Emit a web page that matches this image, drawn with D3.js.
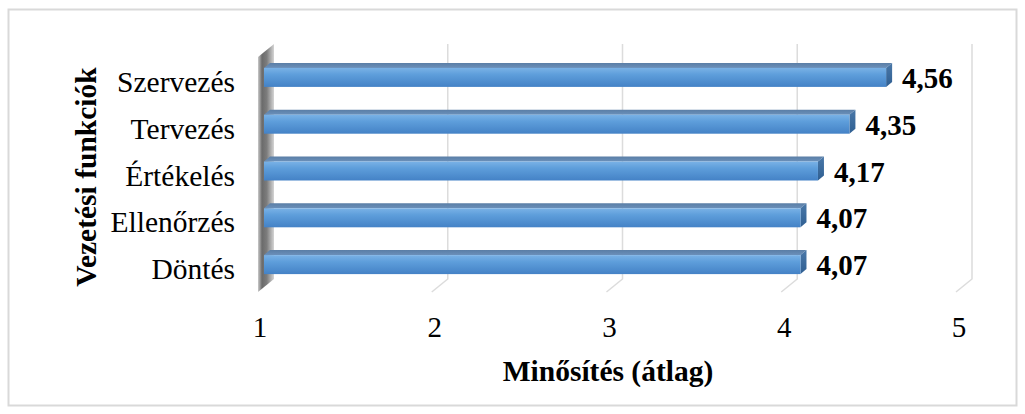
<!DOCTYPE html>
<html>
<head>
<meta charset="utf-8">
<script src="https://cdn.jsdelivr.net/npm/d3@7/dist/d3.min.js"></script>
<style>
  html, body { margin: 0; padding: 0; background: #fff; }
  svg { display: block; }
  text { font-family: "Liberation Serif", "Times New Roman", serif; fill: #000; }
</style>
</head>
<body>
<svg id="chart" width="1025" height="414"></svg>
<script>
// Vezetési funkciók – átlagos minősítés (1–5 skála)
const categories = ["Szervezés", "Tervezés", "Értékelés", "Ellenőrzés", "Döntés"];
const values = [4.56, 4.35, 4.17, 4.07, 4.07];
const valueLabels = ["4,56", "4,35", "4,17", "4,07", "4,07"];
const ticks = [1, 2, 3, 4, 5];
const xTitle = "Minősítés (átlag)";
const yTitle = "Vezetési funkciók";

const svg = d3.select("#chart");

// pseudo-3D geometry: back wall and depth offset
const backTop = 44, backBottom = 279;
const depthX = -16, depthY = 13;        // full depth of the floor
const barFrontX = -9;                    // bar front face relative to back wall
const barDepthX = 6, barDepthY = 5;      // thickness of the bar's top/side faces

const x = d3.scaleLinear().domain([1, 5]).range([273, 972]);
const y = d3.scaleBand().domain(categories).range([54, 288])
  .paddingInner(0.594).paddingOuter(0.297);

const defs = svg.append("defs");

const gFront = defs.append("linearGradient").attr("id", "barFront")
  .attr("x1", 0).attr("y1", 0).attr("x2", 0).attr("y2", 1);
gFront.append("stop").attr("offset", "0%").attr("stop-color", "#7ab2e6");
gFront.append("stop").attr("offset", "35%").attr("stop-color", "#5e9edb");
gFront.append("stop").attr("offset", "100%").attr("stop-color", "#4482c6");

const gTop = defs.append("linearGradient").attr("id", "barTop")
  .attr("x1", 0).attr("y1", 0).attr("x2", 0).attr("y2", 1);
gTop.append("stop").attr("offset", "0%").attr("stop-color", "#5a7ea6");
gTop.append("stop").attr("offset", "100%").attr("stop-color", "#6b90ba");

const gSide = defs.append("linearGradient").attr("id", "barSide")
  .attr("x1", 0).attr("y1", 0).attr("x2", 0).attr("y2", 1);
gSide.append("stop").attr("offset", "0%").attr("stop-color", "#4a78a8");
gSide.append("stop").attr("offset", "100%").attr("stop-color", "#2f5f92");

const gWall = defs.append("linearGradient").attr("id", "wall")
  .attr("x1", 0).attr("y1", 0).attr("x2", 1).attr("y2", 0);
gWall.append("stop").attr("offset", "0%").attr("stop-color", "#c4c4c4");
gWall.append("stop").attr("offset", "25%").attr("stop-color", "#5a5a5a");
gWall.append("stop").attr("offset", "55%").attr("stop-color", "#6e6e6e");
gWall.append("stop").attr("offset", "100%").attr("stop-color", "#d0d0d0");

// chart frame
svg.append("rect")
  .attr("x", 8.5).attr("y", 9.5).attr("width", 1008).attr("height", 396)
  .attr("fill", "#fff").attr("stroke", "#d9d9d9").attr("stroke-width", 2);

// gridlines on the back wall, bending onto the floor
svg.append("g").selectAll("path")
  .data(ticks.slice(1))
  .join("path")
  .attr("d", v => `M${x(v)},${backTop}V${backBottom}L${x(v) + depthX},${backBottom + depthY}`)
  .attr("fill", "none").attr("stroke", "#dcdcdc").attr("stroke-width", 1.5);

// side wall at the category axis
const x0 = x(1);
svg.append("path")
  .attr("d", `M${x0 + 1},${backTop}L${x0 + depthX + 1},${backTop + depthY}L${x0 + depthX + 1},${backBottom + depthY}L${x0 + 1},${backBottom}Z`)
  .attr("fill", "url(#wall)").attr("opacity", 0.9);

// bars: front face, top face and right side face
const bars = svg.append("g").selectAll("g")
  .data(categories.map((c, i) => ({ c, v: values[i], label: valueLabels[i] })))
  .join("g");

bars.append("path") // top
  .attr("d", d => {
    const l = x(1) + barFrontX, r = x(d.v) + barFrontX, t = y(d.c);
    return `M${l},${t}L${l + barDepthX},${t - barDepthY}L${r + barDepthX},${t - barDepthY}L${r},${t}Z`;
  })
  .attr("fill", "url(#barTop)");

bars.append("path") // right side
  .attr("d", d => {
    const r = x(d.v) + barFrontX, t = y(d.c), b = t + y.bandwidth();
    return `M${r},${t}L${r + barDepthX},${t - barDepthY}L${r + barDepthX},${b - barDepthY}L${r},${b}Z`;
  })
  .attr("fill", "url(#barSide)");

bars.append("rect") // front
  .attr("x", x(1) + barFrontX)
  .attr("y", d => y(d.c))
  .attr("width", d => x(d.v) - x(1))
  .attr("height", y.bandwidth())
  .attr("fill", "url(#barFront)");

// value labels
bars.append("text")
  .attr("x", d => x(d.v) + barFrontX + 16)
  .attr("y", d => y(d.c) + y.bandwidth() / 2 + 10.5)
  .attr("font-size", 29).attr("font-weight", "bold")
  .text(d => d.label);

// category labels
svg.append("g").selectAll("text")
  .data(categories)
  .join("text")
  .attr("x", 235)
  .attr("y", c => y(c) + y.bandwidth() / 2 + 14.5)
  .attr("text-anchor", "end")
  .attr("font-size", 29.5)
  .text(c => c);

// value axis tick labels
svg.append("g").selectAll("text")
  .data(ticks)
  .join("text")
  .attr("x", v => x(v) - 13)
  .attr("y", 337)
  .attr("text-anchor", "middle")
  .attr("font-size", 29)
  .text(v => v);

// axis titles
svg.append("text")
  .attr("x", 608).attr("y", 381)
  .attr("text-anchor", "middle")
  .attr("font-size", 29.5).attr("font-weight", "bold")
  .text(xTitle);

svg.append("text")
  .attr("transform", "translate(96,177) rotate(-90)")
  .attr("text-anchor", "middle")
  .attr("font-size", 29.5).attr("font-weight", "bold")
  .text(yTitle);
</script>
</body>
</html>
